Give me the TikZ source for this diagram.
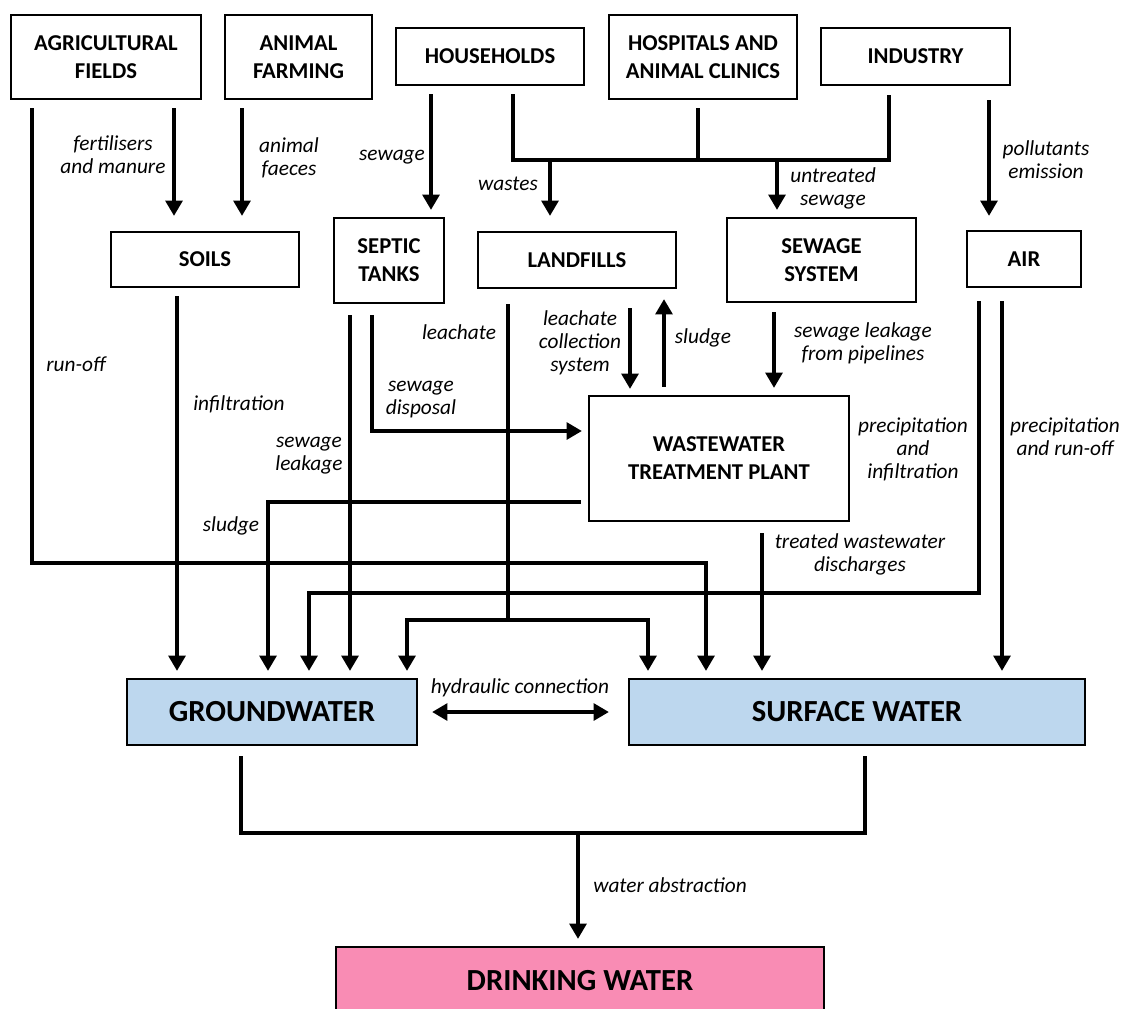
\documentclass[tikz,border=0pt]{standalone}
\usepackage{fontspec}
\setmainfont{Carlito}
\usetikzlibrary{arrows.meta}

\newcommand{\boxfont}{\bfseries\fontsize{17}{21}\selectfont}
\newcommand{\bigfont}{\bfseries\fontsize{23}{27}\selectfont}
\newcommand{\lblfont}{\itshape\fontsize{16}{17.3}\selectfont}

\begin{document}
\begin{tikzpicture}[x=0.75pt, y=-0.75pt,
  box/.style={draw, line width=1.6pt, inner sep=0pt, align=center, font=\boxfont},
  water/.style={box, font=\bigfont},
  lbl/.style={align=center, font=\lblfont},
  pipe/.style={line width=3.3pt},
  flow/.style={pipe, -{Triangle[width=12.5pt,length=11.5pt]}}]

% Define colors for the water boxes
\definecolor{waterblue}{RGB}{189,215,238}
\definecolor{drinkpink}{RGB}{249,140,180}

% Picture frame
\clip (0,0) rectangle (1124,1008);

% Sources
\node[box, minimum width=142.5pt, minimum height=63pt] (AF) at (106,57) {AGRICULTURAL\\FIELDS};
\node[box, minimum width=110.25pt, minimum height=63pt] (FA) at (298.5,57) {ANIMAL\\FARMING};
\node[box, minimum width=141pt, minimum height=42.75pt] (HH) at (490,56.5) {HOUSEHOLDS};
\node[box, minimum width=141pt, minimum height=63pt] (HC) at (703,57) {HOSPITALS AND\\ANIMAL CLINICS};
\node[box, minimum width=141.75pt, minimum height=42.75pt] (IN) at (915.5,56.5) {INDUSTRY};

% Intermediate compartments
\node[box, minimum width=141pt, minimum height=41.25pt] (SO) at (205,259.5) {SOILS};
\node[box, minimum width=82.5pt, minimum height=63.75pt] (ST) at (389,260.5) {SEPTIC\\TANKS};
\node[box, minimum width=148.5pt, minimum height=42pt] (LF) at (577,260) {LANDFILLS};
\node[box, minimum width=141.75pt, minimum height=63pt] (SS) at (821.5,260) {SEWAGE\\SYSTEM};
\node[box, minimum width=85.5pt, minimum height=42pt] (AIR) at (1024,259) {AIR};
\node[box, minimum width=195pt, minimum height=93.75pt] (WT) at (719,458.5) {WASTEWATER\\TREATMENT PLANT};

% Water bodies
\node[water, fill=waterblue, minimum width=217.5pt, minimum height=49.5pt] (GW) at (272,712) {GROUNDWATER};
\node[water, fill=waterblue, minimum width=342pt, minimum height=49.5pt] (SW) at (857,712) {SURFACE WATER};
\node[water, fill=drinkpink, minimum width=366pt, minimum height=50.25pt] (DW) at (580,980.5) {DRINKING WATER};

% Junction points
\coordinate (wj) at (550,160);
\coordinate (sj) at (777,160);
\coordinate (lj) at (508,620);
\coordinate (dj) at (578,833);

% Top row flows
\draw[flow, shorten <=6pt, shorten >=11.25pt] (AF.south -| 174,0) -- (SO.north -| 174,0);
\draw[flow, shorten <=6pt, shorten >=11.25pt] (FA.south -| 242,0) -- (SO.north -| 242,0);
\draw[flow, shorten <=6pt, shorten >=5.25pt] (HH.south -| 431,0) -- (ST.north -| 431,0);
\draw[pipe, shorten <=6pt, shorten >=6.75pt] (HH.south -| 513,0) -- (513,160) -- (889,160) -- (IN.south -| 889,0);
\draw[pipe, shorten <=6pt] (HC.south -| 698,0) -- (698,160);
\draw[flow, shorten >=11.25pt] (wj) -- (LF.north -| wj);
\draw[flow, shorten >=5.25pt] (sj) -- (SS.north -| sj);
\draw[flow, shorten <=10.5pt, shorten >=10.5pt] (IN.south -| 989,0) -- (AIR.north -| 989,0);

% Flows around the treatment plant
\draw[flow, shorten <=8.25pt, shorten >=4.5pt] (ST.south -| 372,0) |- (WT.west |- 0,431);
\draw[flow, shorten <=14.25pt, shorten >=4.5pt] (LF.south -| 630,0) -- (WT.north -| 630,0);
\draw[flow, shorten <=6pt, shorten >=7.5pt] (WT.north -| 664,0) -- (LF.south -| 664,0);
\draw[flow, shorten <=6.75pt, shorten >=5.25pt] (SS.south -| 774,0) -- (WT.north -| 774,0);

% Flows into groundwater and surface water
\draw[flow, shorten <=6pt, shorten >=5.25pt] (AF.south -| 32,0) -- (32,563) -| (SW.north -| 706,0);
\draw[flow, shorten <=6pt, shorten >=5.25pt] (SO.south -| 177,0) -- (GW.north -| 177,0);
\draw[flow, shorten <=8.25pt, shorten >=5.25pt] (ST.south -| 350,0) -- (GW.north -| 350,0);
\draw[flow, shorten <=5.25pt, shorten >=5.25pt] (WT.west |- 0,502) -| (GW.north -| 268,0);
\draw[pipe, shorten <=11.25pt] (LF.south -| lj) -- (lj);
\draw[flow, shorten >=5.25pt] (lj) -| (GW.north -| 407,0);
\draw[flow, shorten >=5.25pt] (lj) -| (SW.north -| 648,0);
\draw[flow, shorten <=8.25pt, shorten >=5.25pt] (WT.south -| 762,0) -- (SW.north -| 762,0);
\draw[flow, shorten <=9.75pt, shorten >=5.25pt] (AIR.south -| 979,0) -- (979,593) -| (GW.north -| 309,0);
\draw[flow, shorten <=9.75pt, shorten >=5.25pt] (AIR.south -| 1002,0) -- (SW.north -| 1002,0);

% Hydraulic connection and abstraction
\draw[flow, {Triangle[width=12.5pt,length=11.5pt]}-{Triangle[width=12.5pt,length=11.5pt]}, shorten <=10.5pt, shorten >=14.25pt] (GW.east) -- (SW.west);
\draw[pipe, shorten <=7.5pt, shorten >=7.5pt] (GW.south -| 241,0) -- (241,833) -- (865,833) -- (SW.south -| 865,0);
\draw[flow, shorten >=5.25pt] (dj) -- (DW.north -| dj);

% Flow labels
\node[lbl] (lfert) at (113,155) {fertilisers\\and manure};
\node[lbl] (lfaec) at (289,158) {animal\\faeces};
\node[lbl] (lsew) at (392,157) {sewage};
\node[lbl] (lwaste) at (508,184) {wastes};
\node[lbl] (luntr) at (833,188) {untreated\\sewage};
\node[lbl] (lpoll) at (1046,160) {pollutants\\emission};
\node[lbl] (lrun) at (76,364) {run-off};
\node[lbl] (linf) at (239,404) {infiltration};
\node[lbl] (lleach) at (459,332) {leachate};
\node[lbl] (lcoll) at (580,343) {leachate\\collection\\system};
\node[lbl] (lsludgeup) at (703,338) {sludge};
\node[lbl] (lpipe) at (863,343) {sewage leakage\\from pipelines};
\node[lbl] (ldisp) at (421,400) {sewage\\disposal};
\node[lbl] (lseep) at (309,456) {sewage\\leakage};
\node[lbl] (lprecinf) at (913,449) {precipitation\\and\\infiltration};
\node[lbl] (lprecrun) at (1065,437) {precipitation\\and run-off};
\node[lbl] (lsludge) at (231,526) {sludge};
\node[lbl] (ltreat) at (860,554) {treated wastewater\\discharges};
\node[lbl] (lhyd) at (520,688) {hydraulic connection};
\node[lbl] (labs) at (670,885) {water abstraction};
\end{tikzpicture}
\end{document}
